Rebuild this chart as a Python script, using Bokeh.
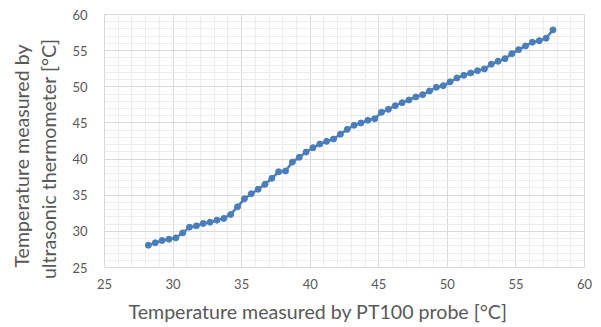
from bokeh.plotting import figure
from bokeh.models import SingleIntervalTicker, Title, Range1d
from bokeh.embed import file_html
from bokeh.resources import INLINE

# Data
pt100_temp = [28.2, 28.7, 29.2, 29.7, 30.2, 30.7, 31.2, 31.7, 32.2, 32.7,
              33.2, 33.7, 34.2, 34.7, 35.2, 35.7, 36.2, 36.7, 37.2, 37.7,
              38.2, 38.7, 39.2, 39.7, 40.2, 40.7, 41.2, 41.7, 42.2, 42.7,
              43.2, 43.7, 44.2, 44.7, 45.2, 45.7, 46.2, 46.7, 47.2, 47.7,
              48.2, 48.7, 49.2, 49.7, 50.2, 50.7, 51.2, 51.7, 52.2, 52.7,
              53.2, 53.7, 54.2, 54.7, 55.2, 55.7, 56.2, 56.7, 57.2, 57.7]
ultrasonic_temp = [28.09, 28.41, 28.74, 28.92, 29.10, 29.79, 30.58, 30.76, 31.09, 31.27,
                   31.55, 31.79, 32.34, 33.39, 34.50, 35.20, 35.82, 36.50, 37.33, 38.24,
                   38.34, 39.58, 40.24, 40.97, 41.57, 42.08, 42.45, 42.77, 43.44, 44.11,
                   44.68, 44.99, 45.36, 45.58, 46.47, 46.88, 47.38, 47.80, 48.17, 48.59,
                   48.91, 49.42, 49.93, 50.15, 50.68, 51.22, 51.59, 51.91, 52.23, 52.47,
                   53.12, 53.53, 53.89, 54.58, 55.14, 55.65, 56.16, 56.38, 56.72, 57.87]

x_title = "Temperature measured by PT100 probe [°C]"
y_title_1 = "Temperature measured by"
y_title_2 = "ultrasonic thermometer [°C]"

FONT = "Lato"
GREY = "#595959"
BLUE = "#4A7EBB"

p = figure(frame_width=480, frame_height=253, output_backend="svg", toolbar_location=None,
           x_range=Range1d(25, 60), y_range=Range1d(25, 60),
           min_border_left=104, min_border_right=17, min_border_top=14, min_border_bottom=40)

p.outline_line_color = "#d9d9d9"
p.background_fill_color = "white"
p.border_fill_color = "white"

for ax in (p.xaxis[0], p.yaxis[0]):
    ax.ticker = SingleIntervalTicker(interval=5, num_minor_ticks=5)
    ax.axis_line_color = None
    ax.major_tick_line_color = None
    ax.minor_tick_line_color = None
    ax.major_label_text_font = FONT
    ax.major_label_text_font_size = "13px"
    ax.major_label_text_color = GREY

p.xaxis.major_label_standoff = 5
p.yaxis.major_label_standoff = 11
# spacer label to push the titles outward
p.yaxis.axis_label = " "
p.yaxis.axis_label_text_font_size = "4px"
p.yaxis.axis_label_standoff = 1

for g in (p.xgrid[0], p.ygrid[0]):
    g.ticker = SingleIntervalTicker(interval=5, num_minor_ticks=5)
    g.grid_line_color = "#d9d9d9"
    g.grid_line_width = 1
    g.minor_grid_line_color = "#ececec"
    g.minor_grid_line_width = 1

p.line(pt100_temp, ultrasonic_temp, line_color=BLUE, line_width=2.5)
p.scatter(pt100_temp, ultrasonic_temp, size=6, fill_color=BLUE, line_color=BLUE)

tx = Title(text=x_title, align="left", offset=24, text_font=FONT, text_font_size="19.6px",
           text_color=GREY, text_font_style="normal", standoff=12)
p.add_layout(tx, "below")

t2 = Title(text=y_title_2, align="right", offset=24, text_font=FONT, text_font_size="19.6px",
           text_color=GREY, text_font_style="normal", standoff=2)
t1 = Title(text=y_title_1, align="right", offset=30, text_font=FONT, text_font_size="19.6px",
           text_color=GREY, text_font_style="normal", standoff=2)
p.add_layout(t2, "left")
p.add_layout(t1, "left")

open("out.html", "w").write(file_html(p, INLINE))
